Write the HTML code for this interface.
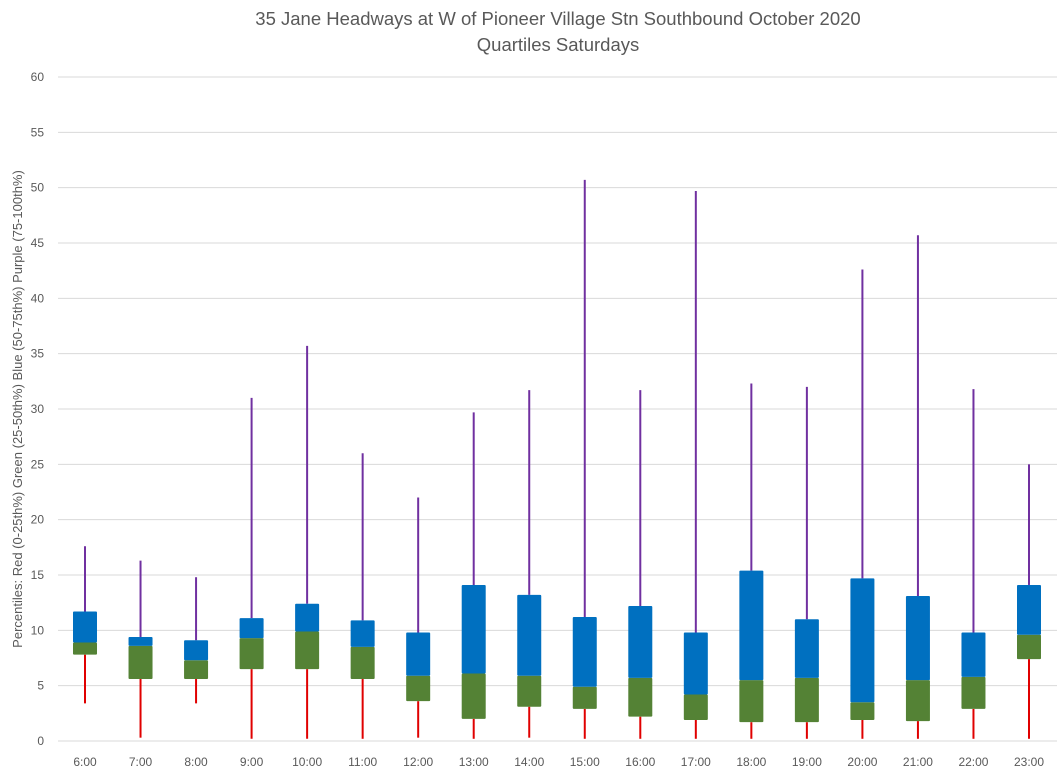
<!DOCTYPE html>
<html><head><meta charset="utf-8"><style>
body{margin:0;background:#fff;font-family:"Liberation Sans",sans-serif;}
svg text{font-family:"Liberation Sans",sans-serif;fill:#595959;}
</style></head><body>
<svg id="c" width="1060" height="779">
<text x="558" y="25" text-anchor="middle" font-size="18.5">35 Jane Headways at W of Pioneer Village Stn Southbound October 2020</text>
<text x="558" y="51" text-anchor="middle" font-size="18.5">Quartiles Saturdays</text>
<text transform="translate(22,409) rotate(-90)" text-anchor="middle" font-size="13">Percentiles:  Red (0-25th%)  Green (25-50th%)  Blue (50-75th%)  Purple (75-100th%)</text>
<g id="grid"></g><g id="marks"></g>
</svg>
<script>
const categories=["6:00","7:00","8:00","9:00","10:00","11:00","12:00","13:00","14:00","15:00","16:00","17:00","18:00","19:00","20:00","21:00","22:00","23:00"];
const minVals=[3.4,0.3,3.4,0.2,0.2,0.2,0.3,0.2,0.3,0.2,0.2,0.2,0.2,0.2,0.2,0.2,0.2,0.2];
const q1Vals=[7.8,5.6,5.6,6.5,6.5,5.6,3.6,2.0,3.1,2.9,2.2,1.9,1.7,1.7,1.9,1.8,2.9,7.4];
const medVals=[8.9,8.6,7.3,9.3,9.9,8.5,5.9,6.1,5.9,4.9,5.7,4.2,5.5,5.7,3.5,5.5,5.8,9.6];
const q3Vals=[11.7,9.4,9.1,11.1,12.4,10.9,9.8,14.1,13.2,11.2,12.2,9.8,15.4,11.0,14.7,13.1,9.8,14.1];
const maxVals=[17.6,16.3,14.8,31,35.7,26,22,29.7,31.7,50.7,31.7,49.7,32.3,32.0,42.6,45.7,31.8,25];
const yTicks=[0,5,10,15,20,25,30,35,40,45,50,55,60];
const NS="http://www.w3.org/2000/svg";
const y=v=>741-v*(664/60);
const x=i=>85+i*(944/17);
function mk(t,a,p){const e=document.createElementNS(NS,t);for(const k in a)e.setAttribute(k,a[k]);p.appendChild(e);return e;}
const g=document.getElementById('grid'),m=document.getElementById('marks');
yTicks.forEach(v=>{
 const l=mk('line',{x1:58,x2:1057,y1:y(v),y2:y(v),stroke:'#d9d9d9','stroke-width':1},g);
 
 
 const t=mk('text',{x:44,y:y(v)+4,'text-anchor':'end','font-size':12},g);t.textContent=v;
 
 
});
categories.forEach((c,i)=>{
 const cx=x(i),w=24;
 const r=mk('line',{x1:cx,x2:cx,y1:y(minVals[i]),y2:y(q1Vals[i]),stroke:'#e00000','stroke-width':2},m);
 
 
 const p=mk('line',{x1:cx,x2:cx,y1:y(q3Vals[i]),y2:y(maxVals[i]),stroke:'#7030a0','stroke-width':2},m);
 
 
 const gb=mk('rect',{x:cx-w/2,y:y(medVals[i]),width:w,height:y(q1Vals[i])-y(medVals[i]),fill:'#548235',rx:1},m);
 
 
 const bb=mk('rect',{x:cx-w/2,y:y(q3Vals[i]),width:w,height:y(medVals[i])-y(q3Vals[i]),fill:'#0070c0',rx:1},m);
 
 
 const t=mk('text',{x:cx,y:766,'text-anchor':'middle','font-size':12},m);t.textContent=c;
 
 
});
</script>
</body></html>
